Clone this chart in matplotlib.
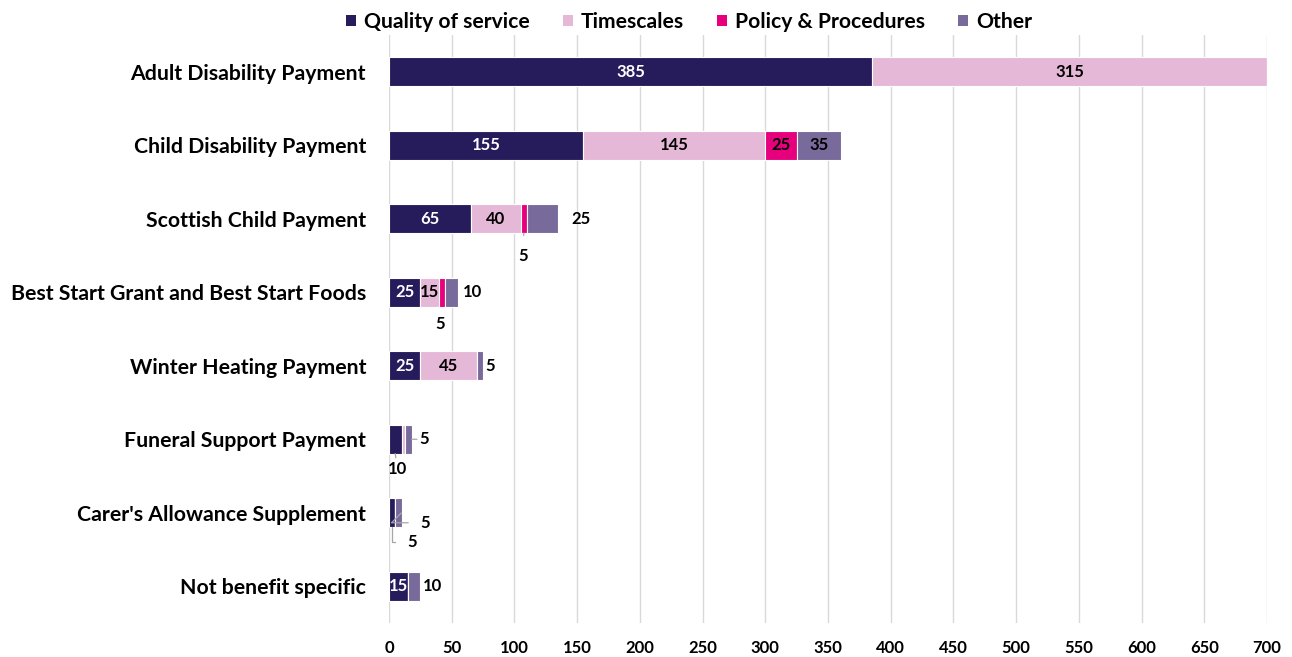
import matplotlib
matplotlib.use("Agg")
import matplotlib.pyplot as plt
from matplotlib.patches import Patch

plt.rcParams['font.family'] = ['Lato', 'DejaVu Sans']
plt.rcParams['font.weight'] = 'bold'

categories = [
    "Adult Disability Payment",
    "Child Disability Payment",
    "Scottish Child Payment",
    "Best Start Grant and Best Start Foods",
    "Winter Heating Payment",
    "Funeral Support Payment",
    "Carer's Allowance Supplement",
    "Not benefit specific",
]
series_names = ["Quality of service", "Timescales", "Policy & Procedures", "Other"]
quality = [385, 155, 65, 25, 25, 10, 5, 15]
timescales = [315, 145, 40, 15, 45, 3, 0, 0]
policy = [0, 25, 5, 5, 0, 0, 0, 0]
other = [0, 35, 25, 10, 5, 5, 5, 10]
x_ticks = list(range(0, 701, 50))

colors = ["#261C5B", "#E6B8D7", "#E6007E", "#786A9B"]
text_colors = ["white", "black", "black", "black"]

# Labels drawn outside their segment.
# anchor: "end" = right end of bar, "bottom" = bottom of segment centre,
#         "edge" = right edge of segment at mid height
# (anchor, dx, dy, leader line, connection style)
outside = {
    (2, 3): ("end", 23, 0, False, None),
    (2, 2): ("bottom", -1, -23, True, None),
    (3, 3): ("end", 14, 0, False, None),
    (3, 2): ("bottom", -2, -17, False, None),
    (4, 3): ("end", 7, 0, False, None),
    (5, 3): ("edge", 13, 0, True, None),
    (5, 0): ("bottom", 2, -15, True, None),
    (6, 3): ("edge", 24, -10, True, "angle,angleA=0,angleB=45,rad=0"),
    (6, 0): ("bottom", 20, -15, True, "angle,angleA=0,angleB=90,rad=0"),
    (7, 3): ("end", 12, 0, False, None),
}
hidden = {(5, 1)}

fig = plt.figure(figsize=(12.92, 6.57), dpi=100)
ax = fig.add_axes([389 / 1292, 1 - 623 / 657, 878 / 1292, 588 / 657])

data = [quality, timescales, policy, other]
totals = [sum(col) for col in zip(*data)]
y = list(range(len(categories)))
left = [0] * len(categories)
bar_h = 0.39
lbl_size = 12
for s, vals in enumerate(data):
    ax.barh(y, vals, left=left, height=bar_h, color=colors[s],
            edgecolor="white", linewidth=0.8, zorder=3)
    for i, v in enumerate(vals):
        if v <= 0 or (i, s) in hidden:
            continue
        cx = left[i] + v / 2
        if (i, s) in outside:
            anchor, dx, dy, lead, conn = outside[(i, s)]
            if anchor == "end":
                xy = (totals[i], i)
            elif anchor == "bottom":
                xy = (cx, i + bar_h / 2)
            else:
                xy = (left[i] + v, i)
            ap = None
            if lead:
                ap = dict(arrowstyle="-", color="#A6A6A6", lw=0.9,
                          shrinkA=7, shrinkB=0)
                if conn:
                    ap["connectionstyle"] = conn
            ax.annotate(str(v), xy=xy, xytext=(dx, dy), textcoords="offset pixels",
                        ha="center", va="center", fontsize=lbl_size, fontweight="bold",
                        color="black", arrowprops=ap, zorder=4)
        else:
            ax.text(cx, i, str(v), ha="center", va="center", fontsize=lbl_size,
                    fontweight="bold", color=text_colors[s], zorder=4)
    left = [a + b for a, b in zip(left, vals)]

ax.set_xlim(0, 700)
ax.set_ylim(len(categories) - 0.5, -0.5)
ax.set_yticks(y)
ax.set_yticklabels(categories, fontsize=15.3, fontweight="bold")
ax.set_xticks(x_ticks)
ax.set_xticklabels([str(t) for t in x_ticks], fontsize=12, fontweight="bold")
ax.tick_params(axis="x", length=0, pad=12)
ax.tick_params(axis="y", length=0, pad=16.5)
ax.grid(axis="x", color="#D9D9D9", linewidth=1, zorder=0)
for sp in ax.spines.values():
    sp.set_visible(False)

handles = [Patch(facecolor=c, edgecolor="none") for c in colors]
fig.legend(handles, series_names, loc="center", bbox_to_anchor=(689 / 1292, 1 - 22 / 657),
           ncol=4, frameon=False, handlelength=0.48, handleheight=0.48,
           handletextpad=0.38, columnspacing=1.55, prop={"weight": "bold", "size": 15.2})

fig.savefig("out.png", dpi=100)
